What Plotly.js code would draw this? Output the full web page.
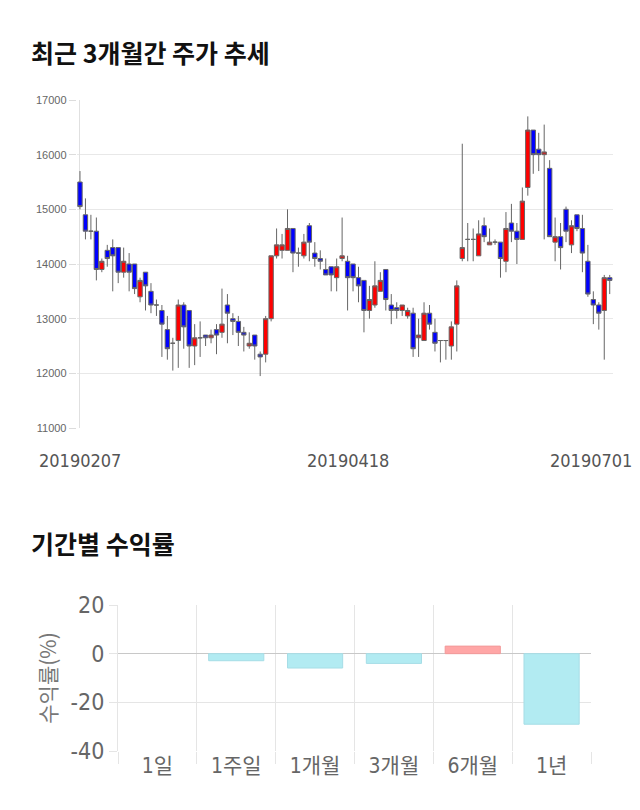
<!DOCTYPE html>
<html><head><meta charset="utf-8">
<script src="https://cdn.plot.ly/plotly-3.0.1.min.js"></script>
<style>html,body{margin:0;padding:0;background:#fff;} #chart{width:640px;height:810px;}</style>
</head><body><div id="chart"></div>
<script>
// ---- price data (daily candles, 20190207 .. 20190701) ----
const openP  = [15500,14900,14600,14600,13900,14250,14300,14300,13850,14000,
                14000,13400,13850,13500,13250,13150,12800,12550,12600,13250,
                13150,12500,12650,12700,12650,12800,12750,13250,13000,12950,
                12750,12500,12700,12350,12350,13000,14150,14250,14250,14650,
                14200,14150,14700,14200,14100,13900,13950,13750,14100,14050,
                14000,13750,13700,13150,13250,13500,13900,13250,13200,13150,
                13050,13100,12650,12600,13100,12750,12600,12600,12500,12900,
                14100,14450,14450,14150,14700,14350,14400,14400,14050,14750,
                14600,14450,15400,16450,16100,16000,15750,14400,14500,15000,
                14350,14900,14650,14050,13350,13250,13150,13750];
const highP  = [15700,15200,14900,14850,14100,14350,14450,14300,14300,14200,
                14000,13750,13850,13650,13350,13250,13050,12650,13350,13300,
                13150,12900,12950,12700,12800,12900,13550,13450,13100,13050,
                12850,12750,12700,12400,13050,14150,14650,14550,15000,14650,
                14300,14550,14750,14400,14250,14100,13950,14100,14850,14150,
                14000,13950,13700,13600,14050,13850,13900,13450,13300,13250,
                13200,13200,13000,13300,13250,13000,12600,12600,12950,13700,
                16200,14750,14650,14800,14850,14650,14450,14400,14950,15100,
                14750,15400,16700,16450,16400,16550,15900,14850,14750,15050,
                14800,14900,14900,14350,13500,13300,13800,13800];
const lowP   = [15000,14450,14450,13700,13850,13950,13500,13650,13750,13500,
                13450,13300,13150,13100,13050,12300,12250,12050,12100,12450,
                12100,12150,12300,12500,12550,12350,12650,12550,12700,12500,
                12400,12450,12250,11950,12200,12950,14100,14100,14250,13850,
                13950,14100,14050,13950,13900,13800,13500,13500,14050,13150,
                13500,13300,12750,13000,13200,13500,13150,12900,13000,13050,
                13000,12300,12300,12600,12800,12400,12200,12250,12250,12400,
                14050,14050,14050,14150,14400,14350,14350,13750,13850,14400,
                14000,14450,15250,15650,15700,14450,14500,14050,13900,14400,
                14200,14600,13850,13400,12900,12800,12250,13450];
const closeP = [15050,14600,14600,13900,14050,14100,14150,13850,14050,13850,
                13550,13700,13600,13250,13250,12900,12450,12550,13250,12850,
                12500,12650,12650,12650,12700,12700,12900,13100,12950,12750,
                12700,12550,12500,12300,13000,14150,14350,14350,14650,14200,
                14200,14400,14400,14100,14050,13800,13800,13950,14150,13750,
                13750,13600,13150,13350,13600,13700,13350,13150,13150,13250,
                13150,12450,12700,13100,12900,12550,12600,12600,12850,13600,
                14300,14450,14450,14550,14500,14400,14400,14100,14650,14600,
                14450,15150,16450,16000,16000,16050,14500,14500,14300,14600,
                14700,14650,14200,13450,13250,13100,13750,13700];
const dateTickIdx  = [0, 49, 97];
const dateTickText = ['20190207', '20190418', '20190701'];

// ---- period returns (%) ----
const periods = ['1일', '1주일', '1개월', '3개월', '6개월', '1년'];
const returns = [0, -2.9, -5.9, -4.0, 3.1, -29.0];
const returnTickVals = [20, 0, -20, -40];
const returnTickText = ['20', '0', '-20', '-40'];

const W = 640, H = 810;
const px = v => v / W;
const py = v => 1 - v / H;
const idx = openP.map((_, i) => i);

const candle = {
  type: 'candlestick', x: idx, open: openP, high: highP, low: lowP, close: closeP,
  xaxis: 'x', yaxis: 'y',
  increasing: {fillcolor: '#ff0000', line: {color: '#666666', width: 1}},
  decreasing: {fillcolor: '#0000ff', line: {color: '#666666', width: 1}},
  whiskerwidth: 0, hoverinfo: 'skip'
};

const bars = {
  type: 'bar', x: periods, y: returns, xaxis: 'x2', yaxis: 'y2',
  marker: {
    color: returns.map(v => v > 0 ? '#ffa6a6' : (v < 0 ? '#b2ebf2' : 'rgba(0,0,0,0)')),
    line: {color: returns.map(v => v > 0 ? '#f29a9a' : (v < 0 ? '#a6dde6' : 'rgba(0,0,0,0)')), width: 1}
  },
  hoverinfo: 'skip'
};

const digitFont = 'DejaVu Sans Condensed, Noto Sans CJK KR, sans-serif';

const annotations = [
  {text: '최근 3개월간 주가 추세', xref: 'paper', yref: 'paper', x: px(29), y: py(52),
   xanchor: 'left', yanchor: 'middle', showarrow: false,
   font: {family: 'Noto Sans CJK KR', size: 25, color: '#111', weight: 700}},
  {text: '기간별 수익률', xref: 'paper', yref: 'paper', x: px(29), y: py(543),
   xanchor: 'left', yanchor: 'middle', showarrow: false,
   font: {family: 'Noto Sans CJK KR', size: 25, color: '#111', weight: 700}}
];
dateTickIdx.forEach((d, k) => {
  annotations.push({
    text: dateTickText[k], xref: 'x', yref: 'paper', x: d, y: py(461),
    xanchor: 'center', yanchor: 'middle', showarrow: false,
    xshift: k === dateTickIdx.length - 1 ? -19 : 0,
    font: {family: digitFont, size: 18, color: '#555'}
  });
});

const layout = {
  width: W, height: H, margin: {l: 0, r: 0, t: 0, b: 0},
  paper_bgcolor: '#fff', plot_bgcolor: '#fff', showlegend: false,
  bargap: 0.3, boxgap: 0.2, boxgroupgap: 0,
  xaxis: {domain: [px(76.7), px(613)], range: [-0.6, 97.6], showticklabels: false,
          showgrid: false, zeroline: true, zerolinecolor: '#e0e0e0', zerolinewidth: 1,
          rangeslider: {visible: false}, ticks: '', fixedrange: true},
  yaxis: {domain: [py(428), py(100)], range: [11000, 17000], tick0: 11000, dtick: 1000,
          tickformat: 'd', gridcolor: '#e8e8e8', zeroline: false, showline: false,
          ticks: 'outside', ticklen: 7, tickcolor: '#dcdcdc',
          tickfont: {family: 'Liberation Sans, Arial, sans-serif', size: 11, color: '#666'}},
  xaxis2: {anchor: 'y2', domain: [px(118), px(591)], type: 'category',
           tickson: 'boundaries', ticks: 'outside', ticklen: 12, tickcolor: '#e5e5e5',
           showgrid: true, gridcolor: '#e5e5e5', showline: false,
           tickfont: {family: digitFont, size: 21, color: '#666'}},
  yaxis2: {anchor: 'x2', domain: [py(751), py(605)], range: [-40, 20],
           tickmode: 'array', tickvals: returnTickVals, ticktext: returnTickText,
           gridcolor: '#e5e5e5', zeroline: true, zerolinecolor: '#c8c8c8', zerolinewidth: 1,
           ticks: 'outside', ticklen: 8, tickcolor: '#e5e5e5', showline: true, linecolor: '#e5e5e5',
           tickfont: {family: digitFont, size: 23, color: '#666'},
           title: {text: '수익률(%)', standoff: 8,
                   font: {family: 'Noto Sans CJK KR, sans-serif', size: 21, color: '#777'}}},
  annotations: annotations
};

Plotly.newPlot('chart', [candle, bars], layout, {displayModeBar: false, staticPlot: true});
</script>
</body></html>
